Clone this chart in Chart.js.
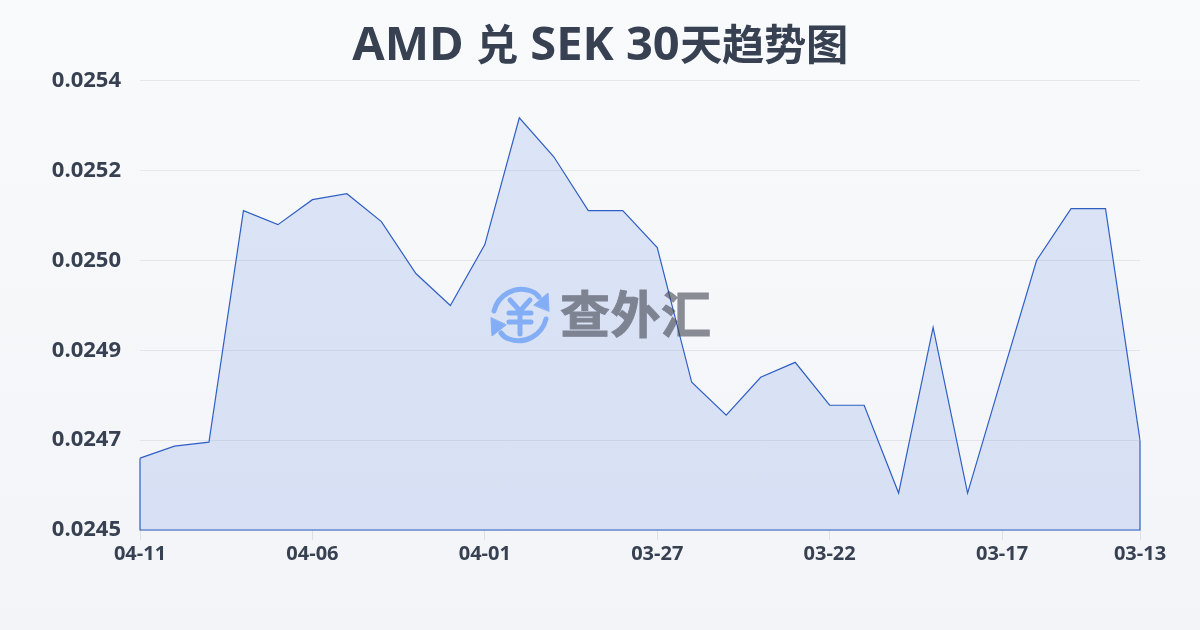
<!DOCTYPE html>
<html lang="zh">
<head>
<meta charset="utf-8">
<script src="https://cdn.jsdelivr.net/npm/chart.js@4/dist/chart.umd.min.js"></script>
<style>
@font-face{font-family:"TitleCJK";src:local("Noto Sans CJK SC Bold"),local("NotoSansCJKsc-Bold");font-weight:700;size-adjust:90%;unicode-range:U+3000-9FFF}
html,body{margin:0;padding:0}
body{width:1200px;height:630px;overflow:hidden;position:relative;background:linear-gradient(180deg,#f9fafc 0%,#f2f4f7 100%)}
#c{position:absolute;left:0;top:0;width:1200px;height:630px}
#wm{position:absolute;left:489px;top:285px;width:230px;height:62px;opacity:.6;pointer-events:none}
#wm span{position:absolute;left:71px;top:-4px;font:700 50px/60px "Noto Sans CJK SC";color:#424550;white-space:nowrap;letter-spacing:.5px;-webkit-text-stroke:1px #424550}
</style>
</head>
<body>
<canvas id="c" width="1200" height="630"></canvas>
<div id="wm">
<svg width="62" height="62" viewBox="0 0 62 62" style="position:absolute;left:0;top:0" fill="none" stroke="#4a8cf5" stroke-linecap="round" stroke-linejoin="round">
<path d="M5 26C9 10 26 0 42 6C45 7 48 9 50 12" stroke-width="5"/>
<path d="M60 26L59 8L45 20Z" fill="#4a8cf5" stroke="#4a8cf5" stroke-width="1"/>
<path d="M57 34C53 50 36 60 20 54C17 53 14 51 12 48" stroke-width="5"/>
<path d="M2 33L3 51L17 40Z" fill="#4a8cf5" stroke="#4a8cf5" stroke-width="1"/>
<path d="M21 15L31 26L41 15M20 28H42M20 37H42M31 26V49" stroke-width="5"/>
</svg>
<span>查外汇</span>
</div>
<script>
const categories = ["04-11","04-10","04-09","04-08","04-07","04-06","04-05","04-04","04-03","04-02","04-01","03-31","03-30","03-29","03-28","03-27","03-26","03-25","03-24","03-23","03-22","03-21","03-20","03-19","03-18","03-17","03-16","03-15","03-14","03-13"];
const rates = [0.024644,0.024668,0.024676,0.02514,0.025112,0.025162,0.025174,0.025118,0.025014,0.02495,0.025072,0.025326,0.025248,0.02514,0.02514,0.025066,0.024796,0.02473,0.024806,0.024836,0.02475,0.02475,0.024574,0.024906,0.024574,0.024808,0.02504,0.025144,0.025144,0.02468];
const shownDates = ["04-11","04-06","04-01","03-27","03-22","03-17","03-13"];
const yMin = 0.0245, yMax = 0.0254, yStep = 0.00018;
const titleText = "AMD 兑 SEK 30天趋势图";

const FONT = '"Open Sans","Noto Sans CJK SC",sans-serif';
const TITLE_FONT = '"TitleCJK","Open Sans","Noto Sans CJK SC",sans-serif';
const INK = "#374151", BLUE = "#2f5fc4", GRID = "rgba(55,65,81,0.09)";
const LINE_W = 1.2;

const closeArea = {
  id: "closeArea",
  afterDatasetsDraw(chart) {
    const pts = chart.getDatasetMeta(0).data, base = chart.scales.y.bottom, c = chart.ctx;
    c.save();
    c.strokeStyle = BLUE; c.lineWidth = LINE_W;
    c.beginPath();
    c.moveTo(pts[0].x, pts[0].y);
    c.lineTo(pts[0].x, base);
    c.lineTo(pts[pts.length - 1].x, base);
    c.lineTo(pts[pts.length - 1].x, pts[pts.length - 1].y);
    c.stroke();
    c.restore();
  }
};

function draw() {
  new Chart(document.getElementById("c"), {
    type: "line",
    plugins: [closeArea],
    data: {
      labels: categories,
      datasets: [{
        data: rates,
        borderColor: BLUE,
        borderWidth: LINE_W,
        backgroundColor: "rgba(59,110,220,0.15)",
        fill: true,
        pointRadius: 0,
        tension: 0
      }]
    },
    options: {
      responsive: false,
      animation: false,
      layout: { padding: 0 },
      plugins: {
        legend: { display: false },
        tooltip: { enabled: false },
        title: {
          display: true, text: titleText, color: INK,
          font: { family: TITLE_FONT, size: 47, weight: "700", lineHeight: 1.2 },
          padding: { top: 18, bottom: 6.5 }
        }
      },
      scales: {
        x: {
          offset: false,
          afterFit(s) { s.height = 100; },
          border: { display: false },
          grid: {
            drawOnChartArea: false, drawTicks: true, tickLength: 10,
            color: ctx => shownDates.includes(categories[ctx.index]) ? "rgba(55,65,81,0.12)" : "transparent"
          },
          ticks: {
            autoSkip: false, maxRotation: 0, minRotation: 0, padding: 2,
            color: INK, font: { family: FONT, size: 20, weight: "700" },
            callback(v, i) { const d = categories[i]; return shownDates.includes(d) ? d : ""; }
          }
        },
        y: {
          min: yMin, max: yMax,
          afterFit(s) { s.width = 140; },
          afterBuildTicks(s) { s.ticks = [0,1,2,3,4,5].map(i => ({ value: yMin + i * yStep })); },
          border: { display: false },
          grid: { color: GRID, lineWidth: 1, drawTicks: false },
          ticks: {
            padding: 19, color: INK, font: { family: FONT, size: 22, weight: "700" },
            callback: v => v.toFixed(4)
          }
        },
        yRight: {
          position: "right", min: yMin, max: yMax,
          afterFit(s) { s.width = 60; },
          border: { display: false },
          grid: { display: false },
          ticks: { display: false }
        }
      }
    }
  });
}
document.fonts.load('700 47px "TitleCJK"', "天趋势图").then(draw, draw);
</script>
</body>
</html>
